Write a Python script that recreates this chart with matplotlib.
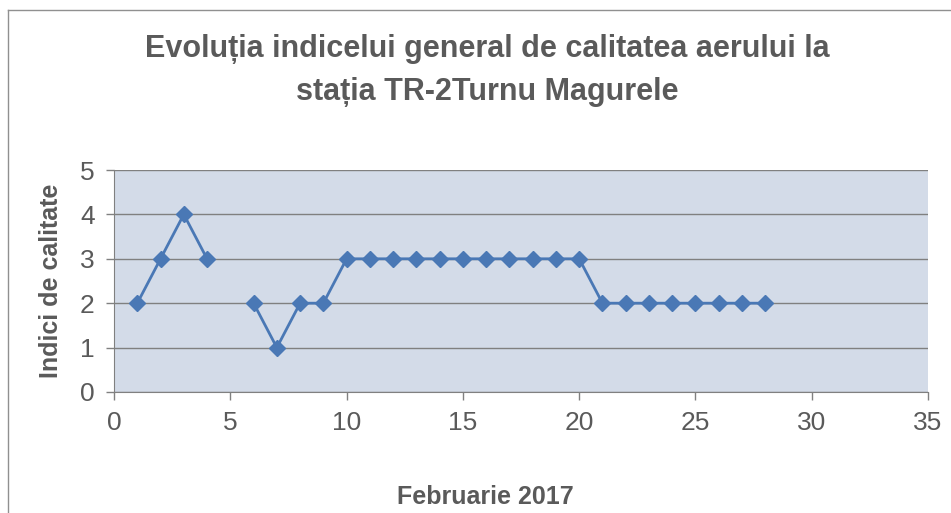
import matplotlib.pyplot as plt
import numpy as np

plt.rcParams['font.family'] = ['Liberation Sans', 'DejaVu Sans']

days_a = [1, 2, 3, 4]
vals_a = [2, 3, 4, 3]
days_b = [6, 7, 8, 9, 10, 11, 12, 13, 14, 15, 16, 17, 18, 19, 20,
          21, 22, 23, 24, 25, 26, 27, 28]
vals_b = [2, 1, 2, 2, 3, 3, 3, 3, 3, 3, 3, 3, 3, 3, 3,
          2, 2, 2, 2, 2, 2, 2, 2]

text_col = '#5a5a5a'
line_col = '#4a78b5'

fig = plt.figure(figsize=(9.51, 5.13), dpi=100)
fig.patch.set_facecolor('white')
ax = fig.add_axes([0.1199, 0.2359, 0.856, 0.4327])
ax.set_facecolor('#d3dbe8')

for d, v in [(days_a, vals_a), (days_b, vals_b)]:
    ax.plot(d, v, color=line_col, lw=2, marker='D', markersize=8,
            markerfacecolor=line_col, markeredgecolor=line_col)

ax.set_xlim(0, 35)
ax.set_ylim(0, 5)
ax.set_xticks(np.arange(0, 36, 5))
ax.set_yticks(np.arange(0, 6, 1))
ax.yaxis.grid(True, color='#808080', lw=1)
ax.set_axisbelow(True)
for s in ['top', 'right']:
    ax.spines[s].set_visible(False)
for s in ['left', 'bottom']:
    ax.spines[s].set_color('#808080')
ax.tick_params(colors='#808080', labelcolor=text_col, labelsize=19,
               length=6, width=1, pad=8)

ax.set_ylabel('Indici de calitate', fontsize=18, fontweight='bold',
              color=text_col, labelpad=12)

fig.text(0.51, 0.031, 'Februarie 2017', ha='center', va='center',
         fontsize=18, fontweight='bold', color=text_col)

fig.text(0.512, 0.863, 'Evoluția indicelui general de calitatea aerului la\nstația TR-2Turnu Magurele',
         ha='center', va='center', fontsize=22, fontweight='bold',
         color=text_col, linespacing=1.55)

# chart frame
fig.add_artist(plt.Line2D([0.008, 0.008], [0.0, 0.98], color='#909090', lw=1))
fig.add_artist(plt.Line2D([0.008, 1.0], [0.98, 0.98], color='#909090', lw=1))

fig.savefig('out.png', dpi=100)
